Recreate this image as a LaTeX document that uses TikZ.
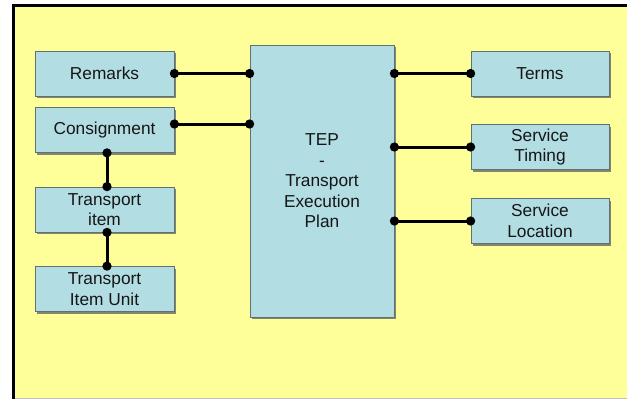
\documentclass[tikz,border=0pt]{standalone}
\usepackage{fontspec}
\setmainfont{Liberation Sans}
\usetikzlibrary{arrows.meta,shadows}
\definecolor{pagebg}{HTML}{FFFF99}
\definecolor{boxfill}{HTML}{B2DDE3}
\definecolor{boxline}{HTML}{5E7272}
\definecolor{ink}{HTML}{161616}
\tikzset{
  x=1pt, y=-1pt,
  entity/.style={draw=boxline, line width=0.8pt, fill=boxfill, inner sep=0pt,
    minimum width=139pt, minimum height=45pt, align=center, text=ink,
    font=\fontsize{17.3pt}{20.5pt}\selectfont,
    drop shadow={shadow xshift=2pt, shadow yshift=-2pt, fill=black!60, opacity=0.8}},
  link/.style={line width=3pt, draw=black,
    {Circle[length=9pt]}-{Circle[length=9pt]},
    shorten <=-4.5pt, shorten >=-4.5pt},
}
\begin{document}
\begin{tikzpicture}
  \useasboundingbox (0,0) rectangle (627,399);
  % page background and frame
  \fill[white] (0,0) rectangle (627,399);
  \fill[pagebg] (13,5) rectangle (627,398);
  \draw[black!25, line width=0.8pt] (13,398) -- (627,398);
  \draw[black, line width=2.8pt] (13.4,399) -- (13.4,5.4) -- (627,5.4);

  % left column
  \node[entity] (remarks) at (104.5,73.5) {Remarks};
  \node[entity] (consign) at (104.5,130) {Consignment};
  \node[entity] (titem)   at (104.5,209.5) {Transport\\item};
  \node[entity] (tiunit)  at (104.5,289) {Transport\\Item Unit};

  % central plan
  \node[entity, minimum width=144pt, minimum height=272pt] (tep) at (322,181)
    {TEP\\-\\Transport\\Execution\\Plan};

  % right column
  \node[entity, minimum width=138pt] (terms)  at (540,73.5) {Terms};
  \node[entity, minimum width=138pt] (timing) at (540,147)  {Service\\Timing};
  \node[entity, minimum width=138pt] (loc)    at (540,221)  {Service\\Location};

  % connectors
  \coordinate (cs) at ([yshift=6pt]consign.east);
  \draw[link] (remarks.east) -- (tep.west |- remarks.east);
  \draw[link] (cs) -- (tep.west |- cs);
  \draw[link] ([xshift=2.5pt]consign.south) -- ([xshift=2.5pt]titem.north);
  \draw[link] ([xshift=2.5pt]titem.south) -- ([xshift=2.5pt]tiunit.north);
  \draw[link] (tep.east |- terms.west) -- (terms.west);
  \draw[link] (tep.east |- timing.west) -- (timing.west);
  \draw[link] (tep.east |- loc.west) -- (loc.west);
\end{tikzpicture}
\end{document}
